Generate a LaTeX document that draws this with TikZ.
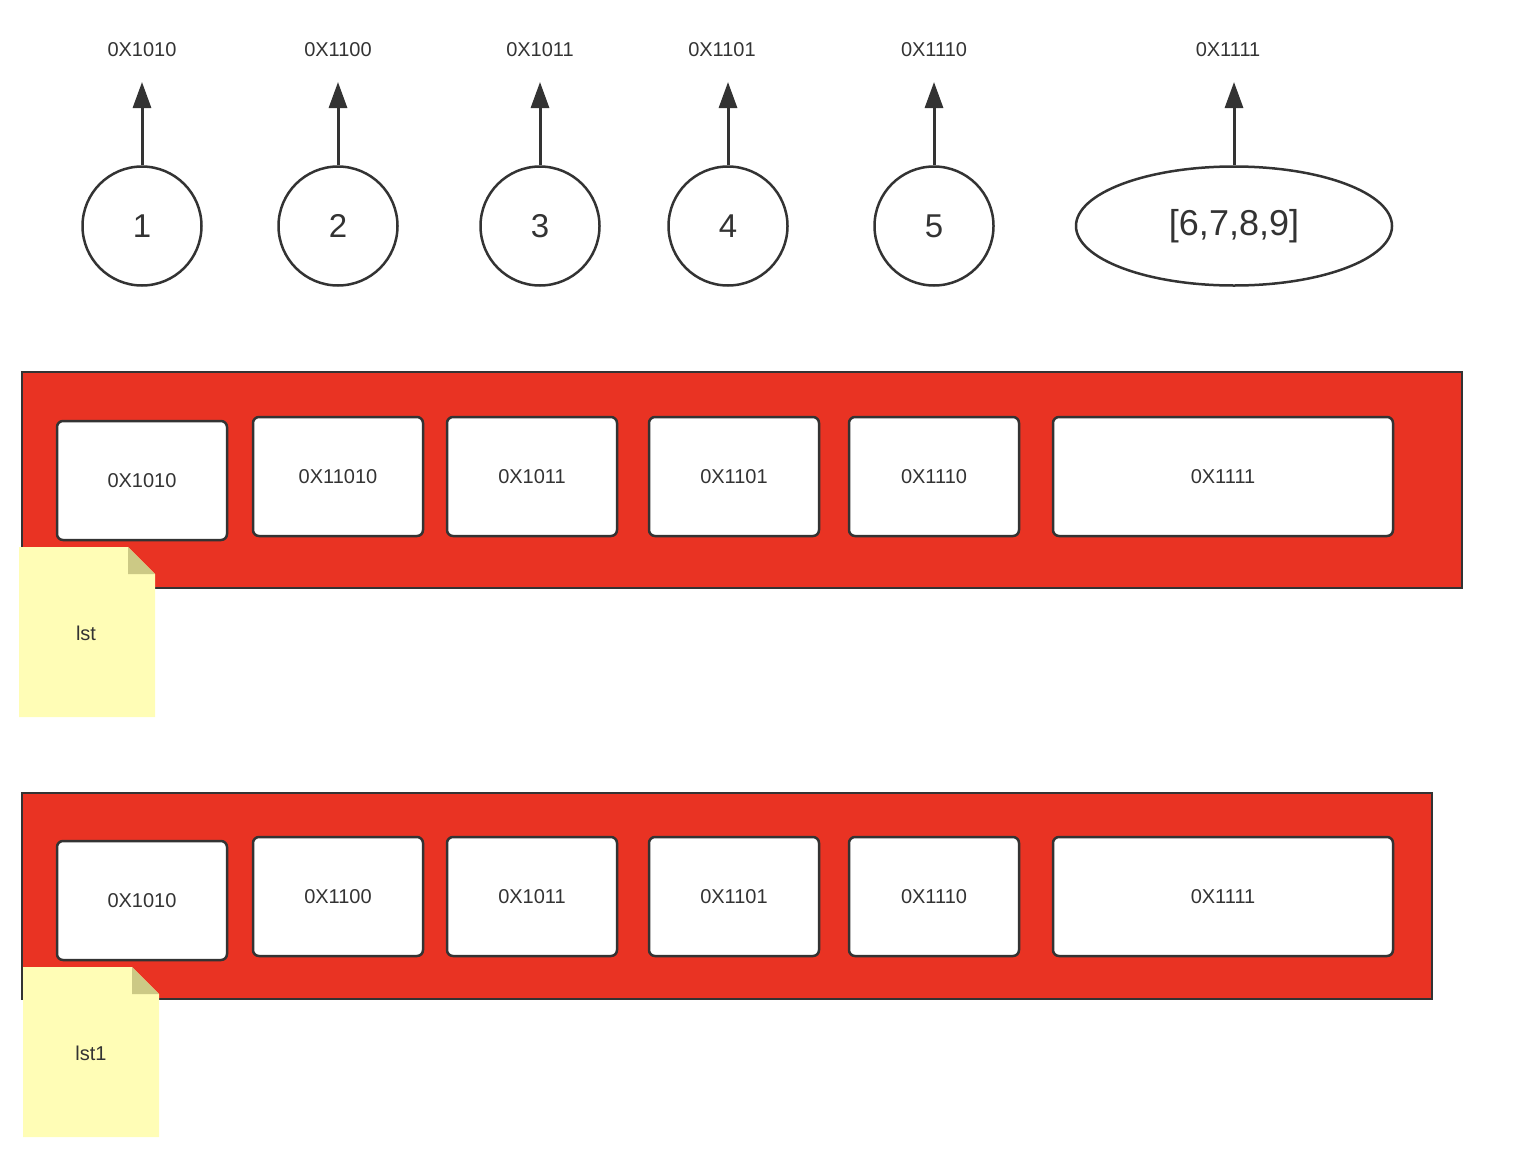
\documentclass[tikz,border=0pt]{standalone}
\usepackage{fontspec}
\setmainfont{Liberation Sans}
\usetikzlibrary{arrows.meta,shapes.geometric}
\definecolor{ink}{HTML}{333333}
\definecolor{framered}{HTML}{E93323}
\definecolor{notey}{HTML}{FFFDB6}
\definecolor{notefold}{HTML}{CCC985}
\tikzset{
  addr/.style={text=ink, font=\fontsize{20}{24}\selectfont},
  valcircle/.style={circle, draw=ink, line width=2.5pt, minimum size=119pt, inner sep=0pt,
    text=ink, font=\fontsize{33}{38}\selectfont},
  valellipse/.style={ellipse, draw=ink, line width=2.5pt, minimum width=316pt, minimum height=119pt,
    inner sep=0pt, text=ink, font=\fontsize{36}{40}\selectfont},
  ptr/.style={draw=ink, line width=3pt, -{Triangle[length=26pt,width=18pt]}},
  frame/.style={rectangle, fill=framered, draw=ink, line width=2.5pt, inner sep=0pt},
  cell/.style={rectangle, rounded corners=6pt, fill=white, draw=ink, line width=2.5pt,
    minimum height=119pt, inner sep=0pt, text=ink, font=\fontsize{20}{24}\selectfont},
  notetext/.style={text=ink, font=\fontsize{20}{24}\selectfont},
}
\begin{document}
\begin{tikzpicture}[x=1pt,y=-1pt]
\useasboundingbox (0,0) rectangle (1530,1162);

% objects in memory with their addresses
\node[addr] (lab1) at (142,50) {0X1010};
\node[addr] (lab2) at (338,50) {0X1100};
\node[addr] (lab3) at (540,50) {0X1011};
\node[addr] (lab4) at (722,50) {0X1101};
\node[addr] (lab5) at (934,50) {0X1110};
\node[addr] (lab6) at (1228,50) {0X1111};

\node[valcircle] (v1) at (142,226) {1};
\node[valcircle] (v2) at (338,226) {2};
\node[valcircle] (v3) at (540,226) {3};
\node[valcircle] (v4) at (728,226) {4};
\node[valcircle] (v5) at (934,226) {5};
\node[valellipse] (v6) at (1234,226) {[6,7,8,9]};

\coordinate (tip) at (0,82);
\foreach \i in {1,...,6}{
  \draw[ptr] (v\i.north) -- (v\i.north |- tip);
}

% list lst
\node[frame, minimum width=1440pt, minimum height=216pt] (frame1) at (742,480) {};
\node[cell, minimum width=170pt] (a1) at (142,480.5) {0X1010};
\node[cell, minimum width=170pt] (a2) at (338,476.5) {0X11010};
\node[cell, minimum width=170pt] (a3) at (532,476.5) {0X1011};
\node[cell, minimum width=170pt] (a4) at (734,476.5) {0X1101};
\node[cell, minimum width=170pt] (a5) at (934,476.5) {0X1110};
\node[cell, minimum width=340pt] (a6) at (1223,476.5) {0X1111};

\fill[notey] (19,547) -- (128,547) -- (155,574) -- (155,717) -- (19,717) -- cycle;
\fill[notefold] (128,547) -- (128,574) -- (155,574) -- cycle;
\node[notetext] (note1) at (86,633) {lst};

% list lst1
\node[frame, minimum width=1410pt, minimum height=206pt] (frame2) at (727,896) {};
\node[cell, minimum width=170pt] (b1) at (142,900.5) {0X1010};
\node[cell, minimum width=170pt] (b2) at (338,896.5) {0X1100};
\node[cell, minimum width=170pt] (b3) at (532,896.5) {0X1011};
\node[cell, minimum width=170pt] (b4) at (734,896.5) {0X1101};
\node[cell, minimum width=170pt] (b5) at (934,896.5) {0X1110};
\node[cell, minimum width=340pt] (b6) at (1223,896.5) {0X1111};

\fill[notey] (23,967) -- (132,967) -- (159,994) -- (159,1137) -- (23,1137) -- cycle;
\fill[notefold] (132,967) -- (132,994) -- (159,994) -- cycle;
\node[notetext] (note2) at (91,1053) {lst1};
\end{tikzpicture}
\end{document}
